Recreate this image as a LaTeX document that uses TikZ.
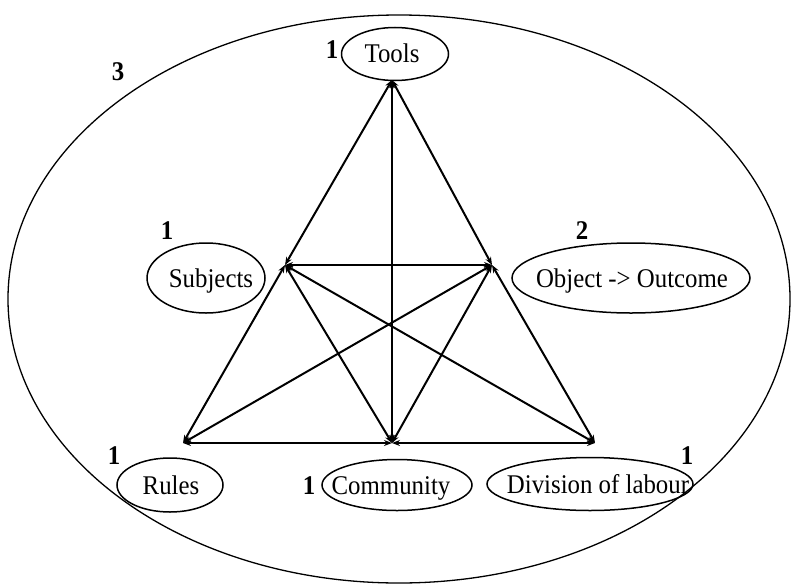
\documentclass[tikz,border=0pt]{standalone}
\usepackage{fontspec}
\setmainfont[FakeStretch=0.92]{Liberation Serif}
\usetikzlibrary{shapes.geometric,arrows.meta}
\begin{document}
\begin{tikzpicture}[x=1pt,y=-1pt,
  ell/.style={draw,ellipse,line width=1.5pt,inner sep=0pt},
  txt/.style={inner sep=0pt,text height=18pt,text depth=0pt,font=\fontsize{27}{29}\selectfont},
  num/.style={font=\fontsize{27}{29}\selectfont\bfseries,inner sep=0pt},
  conn/.style={line width=2pt,{Stealth[length=8pt,width=6pt]}-{Stealth[length=8pt,width=6pt]}}]
\useasboundingbox (0,0) rectangle (791,586);
\draw[line width=1.3pt] (399,299) ellipse [x radius=391, y radius=284];
% ellipses
\node[ell,minimum width=107pt,minimum height=53pt] (tools) at (395,54) {};
\node[ell,minimum width=118pt,minimum height=70pt] (subj) at (206,278) {};
\node[ell,minimum width=238pt,minimum height=70pt] (obj) at (631,278) {};
\node[ell,minimum width=106pt,minimum height=54pt] (rules) at (170,485) {};
\node[ell,minimum width=150pt,minimum height=51pt] (comm) at (397,485) {};
\node[ell,minimum width=206pt,minimum height=53pt] (div) at (590,484) {};
% texts
\node[txt] (toolst) at (392,54) {Tools};
\node[txt] (subjt) at (211,278) {Subjects};
\node[txt] (objt) at (632,278) {Object -> Outcome};
\node[txt] (rulest) at (171,485) {Rules};
\node[txt] (commt) at (391,485) {Community};
\node[txt] (divt) at (598,484) {Division of labour};
% numbers
\node[num] (n3) at (118,72) {3};
\node[num] (nt) at (332,50) {1};
\node[num] (ns) at (167,231) {1};
\node[num] (no) at (582,231) {2};
\node[num] (nr) at (114,456) {1};
\node[num] (nc) at (309,486) {1};
\node[num] (nd) at (687,456) {1};
% triangle points
\coordinate (T) at (392,80);
\coordinate (S) at (285,265);
\coordinate (O) at (492,265);
\coordinate (R) at (183,443);
\coordinate (C) at (392,443);
\coordinate (D) at (595,443);
% connectors
\draw[conn] (T) -- (S);
\draw[conn] (T) -- (O);
\draw[conn] (T) -- (C);
\draw[conn] (S) -- (O);
\draw[conn] (S) -- (R);
\draw[conn] (S) -- (C);
\draw[conn] (S) -- (D);
\draw[conn] (O) -- (R);
\draw[conn] (O) -- (C);
\draw[conn] (O) -- (D);
\draw[conn] (R) -- (C);
\draw[conn] (C) -- (D);
\end{tikzpicture}
\end{document}
